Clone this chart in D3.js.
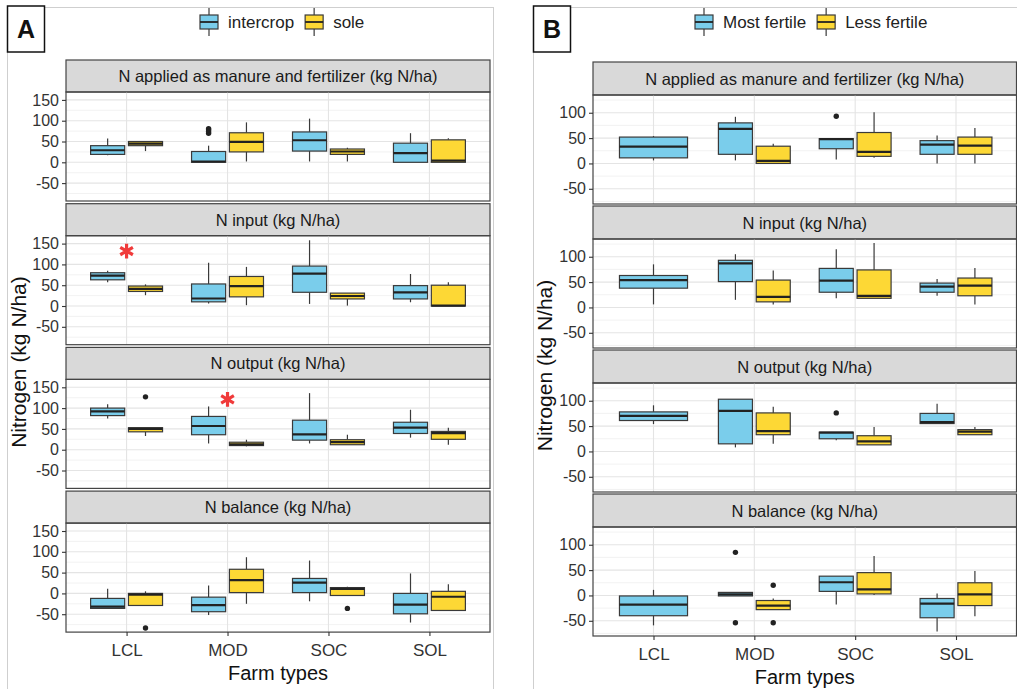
<!DOCTYPE html>
<html>
<head>
<meta charset="utf-8">
<script src="https://cdn.jsdelivr.net/npm/d3@7"></script>
<style>
  html, body { margin: 0; padding: 0; background: #fff; }
  svg { display: block; font-family: "Liberation Sans", Arial, sans-serif; }
</style>
</head>
<body>
<svg id="chart" width="1017" height="689"></svg>
<script>
// ---- categories and labels ----
const farmTypes = ["LCL", "MOD", "SOC", "SOL"];
const facetTitles = [
  "N applied as manure and fertilizer (kg N/ha)",
  "N input (kg N/ha)",
  "N output (kg N/ha)",
  "N balance (kg N/ha)"
];
const groupsA = ["intercrop", "sole"];
const groupsB = ["Most fertile", "Less fertile"];
const yTicksA = [-50, 0, 50, 100, 150];
const yTicksB = [-50, 0, 50, 100];

// ---- box statistics: [farm, group, lower whisker, Q1, median, Q3, upper whisker, outliers] ----
// Panel A: cropping system
const appliedA = [
  ["LCL", "intercrop", 17, 19, 29, 40, 57, []],
  ["LCL", "sole", 27, 40, 45, 50, 50, []],
  ["MOD", "intercrop", 0, 0, 2, 26, 40, [70, 74, 78, 81]],
  ["MOD", "sole", 2, 25, 49, 71, 96, []],
  ["SOC", "intercrop", 2, 27, 53, 73, 105, []],
  ["SOC", "sole", 2, 19, 26, 32, 35, []],
  ["SOL", "intercrop", 0, 0, 22, 46, 70, []],
  ["SOL", "sole", 0, 0, 4, 54, 58, []]
];
const inputA = [
  ["LCL", "intercrop", 57, 63, 73, 80, 85, []],
  ["LCL", "sole", 26, 35, 41, 48, 52, []],
  ["MOD", "intercrop", 6, 10, 18, 53, 104, []],
  ["MOD", "sole", 2, 22, 48, 71, 94, []],
  ["SOC", "intercrop", 5, 33, 78, 96, 158, []],
  ["SOC", "sole", 1, 17, 24, 31, 31, []],
  ["SOL", "intercrop", 9, 17, 33, 49, 77, []],
  ["SOL", "sole", 0, 0, 1, 50, 57, []]
];
const outputA = [
  ["LCL", "intercrop", 75, 82, 92, 100, 109, []],
  ["LCL", "sole", 33, 43, 50, 53, 53, [127]],
  ["MOD", "intercrop", 15, 36, 57, 80, 104, []],
  ["MOD", "sole", 8, 10, 13, 18, 24, []],
  ["SOC", "intercrop", 15, 23, 37, 71, 136, []],
  ["SOC", "sole", 12, 12, 18, 24, 36, []],
  ["SOL", "intercrop", 29, 39, 53, 66, 96, []],
  ["SOL", "sole", 12, 25, 40, 44, 53, []]
];
const balanceA = [
  ["LCL", "intercrop", -36, -36, -32, -12, 11, []],
  ["LCL", "sole", -29, -29, -3, 0, 5, [-83]],
  ["MOD", "intercrop", -52, -44, -28, -9, 19, []],
  ["MOD", "sole", -25, 2, 32, 58, 87, []],
  ["SOC", "intercrop", -19, 2, 26, 36, 79, []],
  ["SOC", "sole", -5, -5, 11, 14, 16, [-36]],
  ["SOL", "intercrop", -70, -49, -27, 0, 48, []],
  ["SOL", "sole", -41, -41, -8, 5, 22, []]
];
// Panel B: field fertility
const appliedB = [
  ["LCL", "Most fertile", 6, 11, 33, 52, 54, []],
  ["MOD", "Most fertile", 6, 18, 68, 80, 92, []],
  ["MOD", "Less fertile", 0, 0, 5, 34, 39, []],
  ["SOC", "Most fertile", 8, 29, 48, 49, 49, [93]],
  ["SOC", "Less fertile", 11, 14, 23, 61, 101, []],
  ["SOL", "Most fertile", 0, 18, 37, 45, 55, []],
  ["SOL", "Less fertile", 0, 18, 35, 52, 70, []]
];
const inputB = [
  ["LCL", "Most fertile", 6, 38, 54, 63, 85, []],
  ["MOD", "Most fertile", 15, 51, 87, 93, 105, []],
  ["MOD", "Less fertile", 6, 11, 21, 54, 73, []],
  ["SOC", "Most fertile", 18, 30, 53, 77, 115, []],
  ["SOC", "Less fertile", 18, 18, 23, 74, 127, []],
  ["SOL", "Most fertile", 23, 30, 41, 48, 56, []],
  ["SOL", "Less fertile", 6, 23, 43, 58, 78, []]
];
const outputB = [
  ["LCL", "Most fertile", 54, 61, 70, 78, 91, []],
  ["MOD", "Most fertile", 8, 15, 80, 103, 103, []],
  ["MOD", "Less fertile", 15, 33, 40, 76, 88, []],
  ["SOC", "Most fertile", 22, 25, 37, 38, 38, [76]],
  ["SOC", "Less fertile", 13, 13, 20, 31, 48, []],
  ["SOL", "Most fertile", 55, 55, 58, 75, 94, []],
  ["SOL", "Less fertile", 33, 33, 39, 43, 48, []]
];
const balanceB = [
  ["LCL", "Most fertile", -59, -40, -18, -1, 11, []],
  ["MOD", "Most fertile", -1, -1, 2, 6, 6, [85, -54]],
  ["MOD", "Less fertile", -28, -28, -20, -10, -6, [20, -54]],
  ["SOC", "Most fertile", -18, 8, 26, 38, 38, []],
  ["SOC", "Less fertile", 1, 3, 12, 45, 78, []],
  ["SOL", "Most fertile", -71, -44, -16, -6, 4, []],
  ["SOL", "Less fertile", -41, -20, 2, 25, 48, []]
];
// significance markers: [facet index, farm, value]
const sigMarksA = [[1, "LCL", 132], [2, "MOD", 121]];

// ---- styling ----
const fills = { "intercrop": "#7ACDEB", "Most fertile": "#7ACDEB", "sole": "#FDD835", "Less fertile": "#FDD835" };
const lineCol = "#3a3a3a";
const gridMajor = "#e4e4e4";
const gridMinor = "#efefef";

const svg = d3.select("#chart");

function drawPanel(cfg) {
  const g = svg.append("g");
  const x = d3.scalePoint().domain(farmTypes).range([cfg.left, cfg.right]).padding(0.6);
  const step = x.step();
  const dodge = d3.scaleBand().domain(cfg.groups).range([-0.375 * step, 0.375 * step]);

  // outer frame and panel letter
  g.append("rect").attr("x", cfg.frameX + 0.5).attr("y", 7.5).attr("width", cfg.frameW).attr("height", 700)
    .attr("fill", "none").attr("stroke", "#cfcfcf").attr("stroke-width", 1);
  g.append("rect").attr("x", cfg.frameX + 0.5).attr("y", 6).attr("width", 37).attr("height", 46)
    .attr("fill", "#fff").attr("stroke", "#111").attr("stroke-width", 1.5);
  g.append("text").attr("x", cfg.frameX + 19).attr("y", 38).attr("text-anchor", "middle")
    .attr("font-size", 25).attr("font-weight", "bold").attr("fill", "#111").text(cfg.letter);

  // legend
  const leg = g.append("g");
  let lx = cfg.legendX;
  cfg.groups.forEach((grp, i) => {
    const k = leg.append("g");
    k.append("line").attr("x1", lx + 9).attr("x2", lx + 9).attr("y1", 8).attr("y2", 36).attr("stroke", lineCol).attr("stroke-width", 1.2);
    k.append("rect").attr("x", lx).attr("y", 15).attr("width", 18).attr("height", 14)
      .attr("fill", fills[grp]).attr("stroke", lineCol).attr("stroke-width", 1.2);
    k.append("line").attr("x1", lx).attr("x2", lx + 18).attr("y1", 22).attr("y2", 22).attr("stroke", "#222").attr("stroke-width", 1.8);
    const t = leg.append("text").attr("x", lx + 28).attr("y", 28).attr("font-size", 17).attr("fill", "#222").text(grp);
    lx = lx + 28 + t.node().getComputedTextLength() + 11;
  });

  // y title
  const midY = (cfg.top + cfg.stripH + cfg.top + 3 * cfg.pitch + cfg.stripH + cfg.plotH) / 2;
  g.append("text").attr("transform", `translate(${cfg.yTitleX},${midY}) rotate(-90)`)
    .attr("text-anchor", "middle").attr("font-size", 21).attr("fill", "#111").text("Nitrogen (kg N/ha)");

  cfg.facets.forEach((data, fi) => {
    const sTop = cfg.top + fi * cfg.pitch;
    const pTop = sTop + cfg.stripH;
    const pBot = pTop + cfg.plotH;
    const y = d3.scaleLinear().domain(cfg.yDomain).range([pBot, pTop]);
    const fg = g.append("g");

    // strip
    fg.append("rect").attr("x", cfg.left).attr("y", sTop).attr("width", cfg.right - cfg.left).attr("height", cfg.stripH)
      .attr("fill", "#d9d9d9").attr("stroke", "#444").attr("stroke-width", 1.2);
    fg.append("text").attr("x", (cfg.left + cfg.right) / 2).attr("y", sTop + cfg.stripH / 2 + 6)
      .attr("text-anchor", "middle").attr("font-size", 16.5).attr("fill", "#1a1a1a").text(facetTitles[fi]);

    // grid
    const minor = cfg.yTicks.slice(0, -1).map((v, i) => (v + cfg.yTicks[i + 1]) / 2)
      .concat([cfg.yTicks[0] - 25, cfg.yTicks[cfg.yTicks.length - 1] + 25])
      .filter(v => v >= cfg.yDomain[0] && v <= cfg.yDomain[1]);
    fg.selectAll(".gmin").data(minor).join("line")
      .attr("x1", cfg.left).attr("x2", cfg.right).attr("y1", d => y(d)).attr("y2", d => y(d))
      .attr("stroke", gridMinor).attr("stroke-width", 0.8);
    fg.selectAll(".gmaj").data(cfg.yTicks).join("line")
      .attr("x1", cfg.left).attr("x2", cfg.right).attr("y1", d => y(d)).attr("y2", d => y(d))
      .attr("stroke", gridMajor).attr("stroke-width", 1.1);
    fg.selectAll(".gx").data(farmTypes).join("line")
      .attr("x1", d => x(d)).attr("x2", d => x(d)).attr("y1", pTop).attr("y2", pBot)
      .attr("stroke", gridMajor).attr("stroke-width", 1.1);

    // boxes
    const counts = d3.rollup(data, v => v.length, d => d[0]);
    data.forEach(d => {
      const [farm, grp, lo, q1, med, q3, hi, outs] = d;
      const single = counts.get(farm) === 1;
      const cx = x(farm) + (single ? 0 : dodge(grp) + dodge.bandwidth() / 2);
      const w = (single ? 0.75 * step : dodge.bandwidth()) * 0.9;
      const bg = fg.append("g");
      bg.append("line").attr("x1", cx).attr("x2", cx).attr("y1", y(hi)).attr("y2", y(q3)).attr("stroke", lineCol).attr("stroke-width", 1.2);
      bg.append("line").attr("x1", cx).attr("x2", cx).attr("y1", y(q1)).attr("y2", y(lo)).attr("stroke", lineCol).attr("stroke-width", 1.2);
      bg.append("rect").attr("x", cx - w / 2).attr("y", y(q3)).attr("width", w).attr("height", Math.max(0.5, y(q1) - y(q3)))
        .attr("fill", fills[grp]).attr("stroke", lineCol).attr("stroke-width", 1.2);
      bg.append("line").attr("x1", cx - w / 2).attr("x2", cx + w / 2).attr("y1", y(med)).attr("y2", y(med))
        .attr("stroke", "#222").attr("stroke-width", 2.2);
      bg.selectAll("circle").data(outs).join("circle")
        .attr("cx", cx).attr("cy", v => y(v)).attr("r", 2.7).attr("fill", "#222");
    });

    // significance markers
    (cfg.sig || []).filter(s => s[0] === fi).forEach(s => {
      fg.append("path").attr("d", d3.symbol(d3.symbolAsterisk, 150)())
        .attr("transform", `translate(${x(s[1])},${y(s[2])})`)
        .attr("fill", "none").attr("stroke", "#f03a3a").attr("stroke-width", 3.2);
    });

    // panel border
    fg.append("rect").attr("x", cfg.left).attr("y", pTop).attr("width", cfg.right - cfg.left).attr("height", cfg.plotH)
      .attr("fill", "none").attr("stroke", "#444").attr("stroke-width", 1.2);

    // y axis (plain hyphen-minus for negative labels)
    const ya = fg.append("g").attr("transform", `translate(${cfg.left},0)`)
      .call(d3.axisLeft(y).tickValues(cfg.yTicks).tickSize(4).tickPadding(3).tickFormat(d => String(d)));
    ya.select(".domain").remove();
    ya.selectAll(".tick line").attr("stroke", "#333").attr("stroke-width", 1.1);
    ya.selectAll(".tick text").attr("font-size", 16).attr("font-family", "Liberation Sans, Arial, sans-serif").attr("fill", "#333");

    if (fi === 3) {
      const xa = fg.append("g").attr("transform", `translate(0,${pBot})`)
        .call(d3.axisBottom(x).tickSize(4).tickPadding(8));
      xa.select(".domain").remove();
      xa.selectAll(".tick line").attr("stroke", "#333").attr("stroke-width", 1.1);
      xa.selectAll(".tick text").attr("font-size", 17).attr("font-family", "Liberation Sans, Arial, sans-serif").attr("fill", "#333");
      fg.append("text").attr("x", (cfg.left + cfg.right) / 2).attr("y", pBot + 48)
        .attr("text-anchor", "middle").attr("font-size", 20).attr("fill", "#111").text("Farm types");
    }
  });
}

drawPanel({
  letter: "A", frameX: 7, frameW: 486, left: 66, right: 490,
  top: 60, pitch: 143.7, stripH: 32, plotH: 109,
  yDomain: [-93, 169], yTicks: yTicksA, groups: groupsA,
  facets: [appliedA, inputA, outputA, balanceA],
  legendX: 200, yTitleX: 26, sig: sigMarksA
});
drawPanel({
  letter: "B", frameX: 533, frameW: 500, left: 593, right: 1016.5,
  top: 62, pitch: 144, stripH: 33, plotH: 109,
  yDomain: [-80, 135], yTicks: yTicksB, groups: groupsB,
  facets: [appliedB, inputB, outputB, balanceB],
  legendX: 695, yTitleX: 552
});
</script>
</body>
</html>
